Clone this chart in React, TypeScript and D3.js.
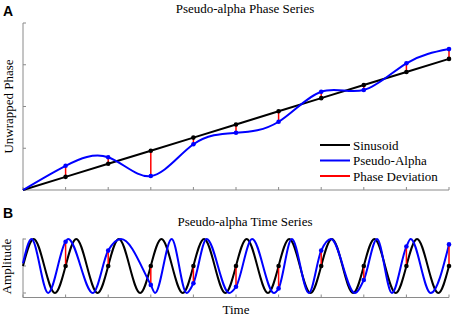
import React from "react";
import * as d3 from "d3";

// ---------- Panel A data: unwrapped phase at each sample index ----------
const sampleIdx = [0, 1, 2, 3, 4, 5, 6, 7, 8, 9, 10];
const sinusoidPhase = [0, 6.3, 12.6, 18.8, 25.1, 31.4, 37.7, 44.0, 50.3, 56.5, 62.8];
const alphaPhase = [0, 11.6, 15.7, 6.7, 21.9, 27.4, 32.7, 47.1, 47.9, 60.7, 67.5];
const phaseYTicks = [0, 20, 40, 60, 80];

// ---------- Panel B data: key points (peaks, troughs, samples) ----------
const sinusoidT = [0, 0.25, 0.75, 1.25, 1.75, 2.25, 2.75, 3.25, 3.75, 4.25, 4.75, 5.25, 5.75, 6.25, 6.75, 7.25, 7.75, 8.25, 8.75, 9.25, 9.75, 10];
const sinusoidAmp = [0, 1, -1, 1, -1, 1, -1, 1, -1, 1, -1, 1, -1, 1, -1, 1, -1, 1, -1, 1, -1, 0];
const alphaT = [0, 0.2, 0.59, 1, 1.06, 1.64, 2, 2.3, 3, 3.1, 3.49, 3.84, 4, 4.31, 4.84, 5, 5.38, 5.89, 6, 6.31, 6.71, 7, 7.23, 7.79, 8, 8.31, 8.66, 9, 9.1, 9.57, 10];
const alphaAmp = [0.1, 1, -1, 0.9, 1, -1, 0.57, 1, -0.7, -1, 1, -1, -0.64, 1, -1, -0.77, 1, -1, -0.83, 1, -1, 0.57, 1, -1, -0.52, 1, -1, 0.72, 1, -1, 0.8];
const sampleAmpSinusoid = [0, 0, 0, 0, 0, 0, 0, 0, 0, 0, 0];
const sampleAmpAlpha = [0.1, 0.9, 0.57, -0.7, -0.64, -0.77, -0.83, 0.57, -0.52, 0.72, 0.8];
const ampYTicks = [-1, 0, 1];

const legendItems = ["Sinusoid", "Pseudo-Alpha", "Phase Deviation"];
const legendColors = ["#000000", "#0000ff", "#ff0000"];

const W = 454;
const H = 319;
const serif = "'Liberation Serif', 'Times New Roman', serif";
const sans = "'Liberation Sans', Arial, sans-serif";
const axisColor = "#8a8a8a";

export default function App() {
  const x = d3.scaleLinear().domain([0, 10]).range([23, 449]);
  const yA = d3.scaleLinear().domain([0, 80]).range([190, 23]);
  const yB = d3.scaleLinear().domain([-1, 1]).range([293, 239]);
  const axisYB = 297.5;

  const lineA = d3.line<number>().x((_, i) => x(sampleIdx[i])).y((d) => yA(d));
  const blackA = lineA.curve(d3.curveLinear)(sinusoidPhase) || "";
  const blueA = d3.line<number>().x((_, i) => x(sampleIdx[i])).y((d) => yA(d)).curve(d3.curveNatural)(alphaPhase) || "";

  const blackB = d3.line<number>().x((_, i) => x(sinusoidT[i])).y((d) => yB(d)).curve(d3.curveMonotoneX)(sinusoidAmp) || "";
  const blueB = d3.line<number>().x((_, i) => x(alphaT[i])).y((d) => yB(d)).curve(d3.curveMonotoneX)(alphaAmp) || "";

  const marks = sampleIdx.slice(1);

  return (
    <svg width={W} height={H} style={{ position: "absolute", left: 0, top: 0, background: "#fff" }}>
      <rect x={0} y={0} width={W} height={H} fill="#fff" />

      {/* ---------------- Panel A ---------------- */}
      <text x={3} y={16} fontFamily={sans} fontWeight="bold" fontSize={14}>A</text>
      <text x={245} y={12.5} textAnchor="middle" fontFamily={serif} fontSize={13}>Pseudo-alpha Phase Series</text>
      <text transform={`translate(12.5,106.5) rotate(-90)`} textAnchor="middle" fontFamily={serif} fontSize={13}>Unwrapped Phase</text>

      <g stroke={axisColor} strokeWidth={1} fill="none">
        <line x1={x(0)} x2={x(0)} y1={yA(80)} y2={yA(0)} />
        <line x1={x(0)} x2={x(10)} y1={yA(0)} y2={yA(0)} />
        {phaseYTicks.map((v) => (
          <line key={"ya" + v} x1={x(0)} x2={x(0) + 3} y1={yA(v)} y2={yA(v)} />
        ))}
        {sampleIdx.map((t) => (
          <line key={"xa" + t} x1={x(t)} x2={x(t)} y1={yA(0)} y2={yA(0) - 3} />
        ))}
      </g>

      <path d={blackA} fill="none" stroke="#000" strokeWidth={2} />
      <path d={blueA} fill="none" stroke="#0000ff" strokeWidth={2} />
      {marks.map((t) => (
        <line key={"ra" + t} x1={x(t)} x2={x(t)} y1={yA(sinusoidPhase[t])} y2={yA(alphaPhase[t])} stroke="#ff0000" strokeWidth={1.5} />
      ))}
      {marks.map((t) => (
        <circle key={"ka" + t} cx={x(t)} cy={yA(sinusoidPhase[t])} r={2.3} fill="#000" />
      ))}
      {marks.map((t) => (
        <circle key={"ba" + t} cx={x(t)} cy={yA(alphaPhase[t])} r={2.3} fill="#0000ff" />
      ))}

      {legendItems.map((name, i) => (
        <g key={name}>
          <line x1={320} x2={350} y1={145 + i * 15.5} y2={145 + i * 15.5} stroke={legendColors[i]} strokeWidth={2} />
          <text x={353} y={149.5 + i * 15.5} fontFamily={serif} fontSize={13}>{name}</text>
        </g>
      ))}

      {/* ---------------- Panel B ---------------- */}
      <text x={3} y={218} fontFamily={sans} fontWeight="bold" fontSize={14}>B</text>
      <text x={245} y={225.7} textAnchor="middle" fontFamily={serif} fontSize={13}>Pseudo-alpha Time Series</text>
      <text transform={`translate(11,266.5) rotate(-90)`} textAnchor="middle" fontFamily={serif} fontSize={13}>Amplitude</text>
      <text x={236} y={314} textAnchor="middle" fontFamily={serif} fontSize={13}>Time</text>

      <g stroke={axisColor} strokeWidth={1} fill="none">
        <line x1={x(0)} x2={x(0)} y1={yB(1) - 0.5} y2={axisYB} />
        <line x1={x(0)} x2={x(10)} y1={axisYB} y2={axisYB} />
        {ampYTicks.map((v) => (
          <line key={"yb" + v} x1={x(0)} x2={x(0) + 3} y1={yB(v)} y2={yB(v)} />
        ))}
        {sampleIdx.map((t) => (
          <line key={"xb" + t} x1={x(t)} x2={x(t)} y1={axisYB} y2={axisYB - 3} />
        ))}
      </g>

      <path d={blackB} fill="none" stroke="#000" strokeWidth={2} />
      <path d={blueB} fill="none" stroke="#0000ff" strokeWidth={2} />
      {marks.map((t) => (
        <line key={"rb" + t} x1={x(t)} x2={x(t)} y1={yB(sampleAmpSinusoid[t])} y2={yB(sampleAmpAlpha[t])} stroke="#ff0000" strokeWidth={1.5} />
      ))}
      {marks.map((t) => (
        <circle key={"kb" + t} cx={x(t)} cy={yB(sampleAmpSinusoid[t])} r={2.3} fill="#000" />
      ))}
      {marks.map((t) => (
        <circle key={"bb" + t} cx={x(t)} cy={yB(sampleAmpAlpha[t])} r={2.3} fill="#0000ff" />
      ))}
    </svg>
  );
}
